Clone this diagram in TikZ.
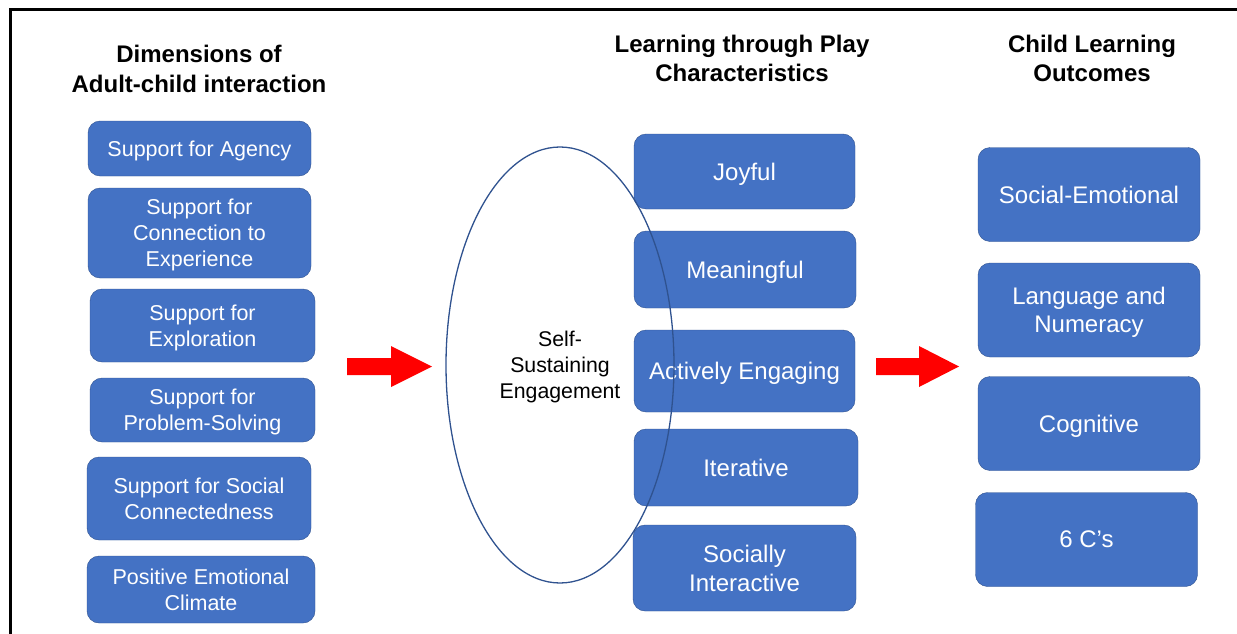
\documentclass[tikz,border=0pt]{standalone}
\usepackage{fontspec}
\setmainfont{Liberation Sans}
\definecolor{boxblue}{HTML}{4472C4}
\definecolor{edgeblue}{HTML}{2F528F}
\begin{document}
\begin{tikzpicture}[x = 1pt, y = -1pt,
                    playbox/.style = {draw = edgeblue, fill = boxblue, rounded corners = 12pt,
                                      text = white, align = center, inner sep = 0pt, text depth = 0pt},
                    heading/.style = {align = center, font = \fontsize{24}{29.5}\selectfont\bfseries}]
  \useasboundingbox (0,0) rectangle (1237,634);
  % frame
  \draw[line width = 3pt] (10,634) -- (10,10) -- (1237,10);
  % headings
  \node[heading] (headAdult) at (199,69) {Dimensions of\\Adult-child interaction};
  \node[heading] (headPlay) at (742,58.5) {Learning through Play\\Characteristics};
  \node[heading] (headChild) at (1092,58.5) {Child Learning\\Outcomes};
  % dimensions of adult-child interaction
  \foreach \x/\y/\w/\h/\t [count = \i] in
    {199.5/148.5/223/55/{Support for Agency},
     199.5/233/223/90/{Support for\\Connection to\\Experience},
     202.5/325.5/225/73/{Support for\\Exploration},
     202.5/410/225/64/{Support for\\Problem-Solving},
     199/498.5/224/83/{Support for Social\\Connectedness},
     201/589.5/228/67/{Positive Emotional\\Climate}}
  {
    \node[playbox, minimum width = \w pt, minimum height = \h pt,
          font = \fontsize{21.5}{26}\selectfont] (adult\i) at (\x,\y) {\t};
  }
  % learning through play characteristics
  \foreach \x/\y/\w/\h/\t [count = \i] in
    {744.5/171.5/221/75/{Joyful},
     745/269.5/222/77/{Meaningful},
     744.5/371/221/82/{Actively Engaging},
     746/467.5/224/77/{Iterative},
     744.5/568/223/86/{Socially\\Interactive}}
  {
    \node[playbox, minimum width = \w pt, minimum height = \h pt,
          font = \fontsize{24}{29}\selectfont] (play\i) at (\x,\y) {\t};
  }
  % child learning outcomes
  \foreach \x/\y/\t [count = \i] in
    {1089/194.5/{Social-Emotional},
     1089/310/{Language and\\Numeracy},
     1089/423.5/{Cognitive},
     1086.5/539.5/{6 C’s}}
  {
    \node[playbox, minimum width = 222pt, minimum height = 94pt,
          font = \fontsize{24}{28}\selectfont] (child\i) at (\x,\y) {\t};
  }
  % self-sustaining engagement
  \draw[edgeblue, line width = 1.3pt] (560,365) ellipse (114pt and 218pt);
  \node[align = center, font = \fontsize{21.3}{26}\selectfont] (engage) at (560,367)
    {Self-\\Sustaining\\Engagement};
  % block arrows
  \foreach \x/\s/\l in {347/44/85, 876/43/83}
  {
    \fill[red] (\x,358) -- (\x+\s,358) -- (\x+\s,346) -- (\x+\l,366.5)
               -- (\x+\s,387) -- (\x+\s,375) -- (\x,375) -- cycle;
  }
\end{tikzpicture}
\end{document}
